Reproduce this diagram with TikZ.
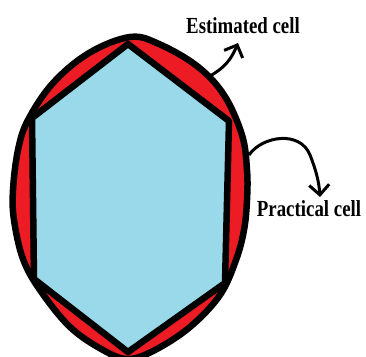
\documentclass[tikz,border=0pt]{standalone}
\usepackage{fontspec}
\setmainfont{Liberation Serif}
\usepackage{graphicx}
\usetikzlibrary{arrows.meta}
\definecolor{cellred}{RGB}{237,28,36}
\definecolor{cellblue}{RGB}{153,217,234}
\tikzset{
    celltext/.style={font=\fontsize{23}{23}\selectfont\bfseries,inner sep=0pt},
    pointer/.style={line width=3pt,-{Straight Barb[length=10pt,width=20pt,line width=3pt]}}
}

\begin{document}
\begin{tikzpicture}[x=1pt,y=-1pt,line join=round]
        \useasboundingbox (0,0) rectangle (366,356);
        \clip (0,0) rectangle (366,356);
        \draw[line width=6.5pt,fill=cellred] plot[smooth cycle,tension=0.6] coordinates
            {(130,37) (159,44) (197,66) (224,95) (242,135) (247,170) (247,200) (244,230)
             (236,260) (220,295) (190,327) (155,350) (128,359) (103,350) (70,327) (40,290)
             (23,259) (14,220) (13,190) (18,150) (28,120) (53,83) (89,53)};%实际的小区
        \coordinate (top) at (128,44);
        \coordinate (ur) at (229,121);
        \coordinate (lr) at (225,283);
        \coordinate (bot) at (128,352);
        \coordinate (ll) at (34,279);
        \coordinate (ul) at (32,118);
        \draw[line width=6.5pt,fill=cellblue] (top)--(ur)--(lr)--(bot)--(ll)--(ul)--cycle;%估计的小区
        \node[celltext] (est) at (243,26) {\scalebox{0.82}[1]{Estimated cell}};
        \node[celltext] (prac) at (309,209) {\scalebox{0.82}[1]{Practical cell}};
        \coordinate (e1) at (210,76);
        \coordinate (e2) at (238,43);
        \coordinate (p1) at (249,155);
        \coordinate (p2) at (320,197);
        \draw[pointer] (e1) .. controls (224,68) and (231,60) .. (e2);
        \draw[pointer] (p1) .. controls (262,136) and (300,130) .. (310,155) .. controls (316,170) and (319,182) .. (p2);
\end{tikzpicture}
\end{document}
